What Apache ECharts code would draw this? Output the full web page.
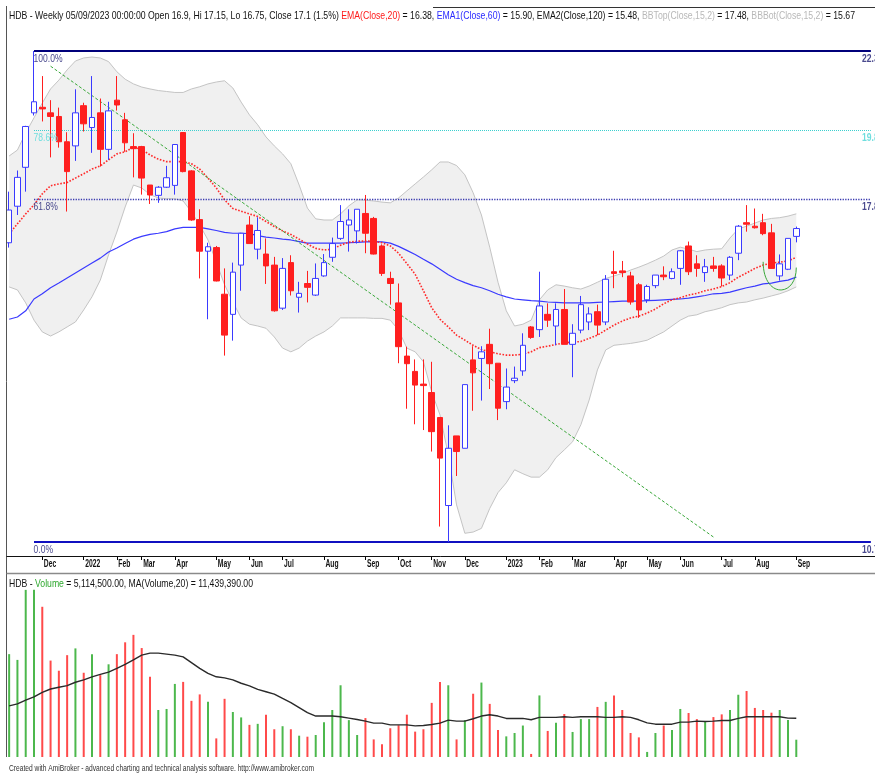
<!DOCTYPE html>
<html><head><meta charset="utf-8">
<script src="https://cdn.jsdelivr.net/npm/echarts@6/dist/echarts.min.js"></script>
<style>html,body{margin:0;padding:0;background:#fff;overflow:hidden}#c{width:875px;height:776px}</style>
</head><body><div id="c"></div>
<script>
// ---------------- DATA (weekly bars, HDB) ----------------
const opens = [16.74,17.68,18.74,20.33,20.50,20.33,20.22,19.47,19.35,20.55,
 19.89,20.33,19.25,20.72,20.12,19.33,19.33,18.25,17.97,18.19,
 18.24,19.74,18.64,17.33,16.53,16.62,15.50,15.04,16.19,17.19,
 16.58,16.46,16.19,15.18,16.25,15.43,15.75,15.48,15.93,16.38,
 16.85,17.19,17.04,17.49,17.36,16.66,15.87,15.30,14.13,13.81,
 13.55,13.38,12.89,11.30,12.54,12.31,14.05,14.08,14.38,13.98,
 13.20,13.62,13.82,14.76,14.70,15.04,14.78,15.15,14.38,14.69,
 14.87,15.10,14.87,16.03,16.05,15.93,15.72,15.37,15.70,15.95,
 15.87,16.11,16.66,16.22,16.01,16.17,16.17,15.95,16.48,17.25,
 17.16,17.25,16.99,15.93,16.09,16.90];
const highs = [18.07,18.65,19.94,22.30,21.48,20.72,20.49,19.75,21.06,20.64,
 21.48,20.77,20.67,21.48,20.33,19.72,19.35,18.25,18.22,18.78,
 19.40,19.75,18.66,17.60,16.74,16.66,16.11,16.25,16.99,17.42,
 17.39,16.85,16.39,16.36,16.43,15.79,16.05,16.23,16.46,16.87,
 17.71,17.60,17.60,17.98,17.40,16.70,16.03,15.75,14.33,14.06,
 14.06,14.01,12.89,12.74,12.54,13.54,14.34,14.34,14.72,13.98,
 13.87,13.91,14.62,14.78,16.03,15.29,15.29,15.62,14.82,15.46,
 15.20,15.26,15.95,16.54,16.29,16.03,15.76,15.72,15.95,16.16,
 16.11,16.56,16.77,16.43,16.34,16.39,16.21,16.41,17.19,17.71,
 17.62,17.48,17.22,16.45,16.85,17.15];
const lows = [16.62,17.45,18.07,20.25,20.07,19.02,19.30,17.54,18.92,19.77,
 19.15,18.76,18.95,20.40,19.18,18.46,17.99,17.74,17.77,18.17,
 17.99,18.60,17.30,15.87,14.93,15.80,14.14,14.46,15.58,16.72,
 16.33,15.74,15.10,15.14,15.47,15.08,15.31,15.46,15.91,16.27,
 16.81,16.52,16.72,16.48,16.45,15.93,15.26,13.98,13.06,12.76,
 12.65,12.25,10.95,10.70,11.81,12.31,13.02,13.22,13.45,12.84,
 13.05,13.57,13.72,14.50,14.54,14.76,14.36,14.38,13.69,14.62,
 14.69,14.58,14.80,15.64,15.90,15.26,14.96,15.30,15.64,15.83,
 15.85,15.72,15.95,15.91,15.79,16.03,15.68,15.83,16.31,17.02,
 17.10,16.93,16.11,15.82,16.07,16.75];
const closes = [17.58,18.46,19.92,20.67,20.45,20.22,19.47,18.62,20.33,20.00,
 20.19,19.25,20.39,20.57,19.44,19.27,18.44,17.98,18.19,18.45,
 19.39,18.62,17.32,16.53,16.64,15.81,14.58,16.02,16.98,16.72,
 17.05,16.17,15.12,16.11,15.58,15.52,15.66,15.87,16.25,16.72,
 17.28,17.32,17.60,16.98,16.46,15.99,15.75,14.33,13.97,13.53,
 13.52,12.62,12.13,12.31,12.25,13.54,13.78,14.22,13.97,13.07,
 13.49,13.67,14.36,14.53,15.23,14.91,15.15,14.38,14.62,15.26,
 15.05,14.80,15.85,15.99,16.01,15.32,15.14,15.68,15.95,15.91,
 16.03,16.54,16.03,16.11,16.15,16.11,15.88,16.38,17.16,17.21,
 17.12,16.97,16.11,16.22,16.85,17.10];
const ema20 = [16.96,17.22,17.48,17.72,18.01,18.23,18.28,18.32,18.44,18.56,
 18.69,18.78,18.95,19.12,19.18,19.31,19.25,19.09,18.97,18.90,
 18.90,18.90,18.84,18.69,18.44,18.17,17.85,17.62,17.55,17.48,
 17.41,17.28,17.15,17.04,16.95,16.83,16.71,16.60,16.56,16.58,
 16.68,16.75,16.78,16.78,16.78,16.74,16.66,16.48,16.23,15.97,
 15.58,15.19,14.93,14.76,14.58,14.47,14.36,14.27,14.22,14.18,
 14.15,14.15,14.17,14.22,14.31,14.34,14.38,14.41,14.43,14.44,
 14.51,14.58,14.69,14.80,14.89,14.96,15.00,15.07,15.16,15.28,
 15.37,15.42,15.48,15.52,15.58,15.62,15.68,15.77,15.90,16.00,
 16.11,16.19,16.24,16.26,16.29,16.38];
const ema60 = [14.93,14.98,15.12,15.39,15.51,15.65,15.76,15.88,16.00,16.12,
 16.24,16.36,16.51,16.61,16.72,16.83,16.90,16.95,16.98,17.02,
 17.09,17.13,17.13,17.13,17.09,17.05,17.00,16.98,16.98,16.97,
 16.92,16.88,16.86,16.83,16.81,16.77,16.73,16.73,16.73,16.73,
 16.73,16.74,16.75,16.76,16.77,16.76,16.73,16.65,16.55,16.45,
 16.33,16.22,16.09,15.96,15.85,15.77,15.70,15.65,15.58,15.50,
 15.44,15.39,15.37,15.35,15.34,15.32,15.31,15.30,15.30,15.30,
 15.30,15.31,15.32,15.33,15.34,15.34,15.34,15.35,15.36,15.37,
 15.38,15.39,15.41,15.44,15.47,15.51,15.52,15.55,15.60,15.65,
 15.69,15.74,15.76,15.80,15.83,15.90];
const bbTop = [19.06,19.23,19.73,20.18,20.63,21.07,21.35,21.68,21.97,22.07,
 22.10,22.07,21.95,21.62,21.38,21.23,21.13,21.07,21.02,20.99,
 20.96,20.96,21.07,21.14,21.23,21.29,21.33,21.10,20.66,20.27,
 19.97,19.61,19.35,19.12,18.84,18.25,17.63,17.35,17.32,17.32,
 17.48,17.69,17.85,17.84,17.82,17.79,17.77,17.90,18.09,18.28,
 18.47,18.67,18.89,18.89,18.79,18.53,18.04,17.45,16.63,15.78,
 15.12,14.78,14.82,14.91,15.37,15.60,15.72,15.69,15.65,15.62,
 15.69,15.78,15.87,15.93,15.99,16.07,16.14,16.22,16.31,16.41,
 16.56,16.63,16.58,16.52,16.56,16.58,16.59,16.86,17.09,17.16,
 17.24,17.32,17.36,17.38,17.42,17.48];
const bbBot = [15.67,15.60,15.30,14.91,14.65,14.56,14.65,14.76,14.87,15.14,
 15.44,15.83,16.44,17.01,17.66,18.25,18.17,17.99,17.90,17.88,
 17.88,17.82,17.53,17.19,16.81,16.26,15.72,15.32,14.96,14.82,
 14.78,14.73,14.54,14.30,14.22,14.30,14.45,14.56,14.65,14.78,
 14.96,14.96,14.96,14.96,14.95,14.95,14.91,14.69,14.30,14.22,
 14.01,13.39,12.94,12.19,11.31,10.84,10.86,10.92,11.25,11.52,
 11.69,11.92,11.85,11.79,11.79,11.92,12.14,12.28,12.43,12.75,
 13.23,13.84,14.26,14.36,14.38,14.40,14.43,14.47,14.56,14.65,
 14.78,14.91,15.00,15.03,15.10,15.14,15.19,15.26,15.30,15.32,
 15.37,15.41,15.46,15.51,15.58,15.67];
// volume in millions of shares
const volumeM = [30.4,28.7,49.4,49.4,44.4,28.5,25.5,30.1,32.1,24.9,
 30.4,24.2,27.4,30.4,33.9,36.1,32.2,23.7,13.9,14.2,
 21.6,22.2,16.6,18.5,16.3,5.5,17.2,13.3,11.7,9.5,
 9.8,12.5,8.2,9.1,8.2,6.3,6.0,6.5,10.3,13.9,
 21.2,10.9,6.5,11.5,5.2,3.8,8.5,9.4,12.5,7.5,
 8.2,16.0,22.2,21.2,5.2,10.9,18.7,22.0,15.7,8.0,
 6.1,7.1,9.3,0.9,18.2,7.7,10.1,12.7,7.4,11.2,
 11.2,14.8,16.3,18.2,13.9,7.1,5.8,1.5,7.1,9.3,
 8.0,14.2,13.0,11.2,10.6,11.8,12.6,13.9,18.4,19.5,
 14.5,13.9,13.1,13.9,10.9,5.1145];
const volMA20M = [15.1,15.7,16.8,17.8,19.1,20.1,20.6,21.1,22.1,22.8,
 23.7,24.4,25.1,26.2,27.4,28.7,30.1,30.7,30.7,30.4,
 30.1,29.6,27.9,26.2,24.7,23.7,23.4,22.8,21.8,21.0,
 20.0,19.3,18.6,17.3,16.1,14.6,13.1,12.1,12.1,12.1,
 11.9,11.5,11.1,10.6,10.0,10.0,9.5,9.5,9.5,9.2,
 9.3,9.6,10.0,10.9,10.6,10.6,11.3,12.1,12.5,12.1,
 11.4,11.4,11.4,11.0,11.7,11.7,11.7,11.9,11.7,11.9,
 11.9,11.9,11.7,11.7,11.9,11.7,11.0,10.1,9.7,9.7,
 9.7,10.3,10.3,10.6,10.5,10.6,10.8,10.8,11.4,11.9,
 11.9,11.9,11.9,11.9,11.5,11.43939];
// month tick labels: [bar index, label]
const monthTicks = [[4,'Dec'],[9,'2022'],[13,'Feb'],[16,'Mar'],[20,'Apr'],[25,'May'],[29,'Jun'],[33,'Jul'],
 [38,'Aug'],[43,'Sep'],[47,'Oct'],[51,'Nov'],[55,'Dec'],[60,'2023'],[64,'Feb'],[68,'Mar'],[73,'Apr'],
 [77,'May'],[81,'Jun'],[86,'Jul'],[90,'Aug'],[95,'Sep']];
// Fibonacci retracement levels
const fibPct = ['100.0%','78.6%','61.8%','0.0%'];
const fibValue = [22.3, 19.82, 17.87, 10.7];
const fibRightLabel = ['22.3','19.8','17.8','10.7'];
const fibStartBar = 3;
// trend line endpoints [bar, price]
const trendLine = [[5, 21.8],[85, 10.78]];
const ema120Last = 15.48;

// ---------------- CHART ----------------
const N_CAT = 105;
const cats = Array.from({length:N_CAT},(_,i)=>String(i));
const tickSet = new Set(monthTicks.map(t=>t[0]));
const UP_BORDER = '#3a3aff', DOWN = '#ff1f1f';
const VOL_UP = '#4cb84c', VOL_DN = '#ff4a4a';

const candleData = opens.map((o,i)=>[o, closes[i], lows[i], highs[i]]);
const bbDiff = bbTop.map((v,i)=>+(v - bbBot[i]).toFixed(3));
const volData = volumeM.map((v,i)=>({value:v, itemStyle:{color: closes[i]>=opens[i]?VOL_UP:VOL_DN}}));

const fibStyles = [
  {color:'#00007a', width:2, type:'solid'},
  {color:'#3ccfcf', width:1, type:'dotted'},
  {color:'#3a3ab0', width:1.3, type:'dotted'},
  {color:'#1010c0', width:2, type:'solid'}
];
const fibLines = fibValue.map((v,k)=>[
  {coord:[fibStartBar, v], lineStyle:fibStyles[k]},
  {coord:[N_CAT-1, v]}
]);

const option = {
  animation:false,
  backgroundColor:'#ffffff',
  grid:[
    {left:5, top:25, width:875, height:531},
    {left:5, top:583, width:875, height:174}
  ],
  xAxis:[
    {type:'category', gridIndex:0, data:cats, boundaryGap:true,
     axisLine:{show:false}, axisLabel:{show:false}, splitLine:{show:false},
     axisTick:{show:true, alignWithLabel:true, length:4, interval:(i)=>tickSet.has(i), lineStyle:{color:'#000'}}},
    {type:'category', gridIndex:1, data:cats, boundaryGap:true,
     axisLine:{show:false}, axisLabel:{show:false}, axisTick:{show:false}, splitLine:{show:false}}
  ],
  yAxis:[
    {type:'log', logBase:10, gridIndex:0, min:10.478, max:23.185,
     axisLine:{show:false}, axisLabel:{show:false}, axisTick:{show:false}, splitLine:{show:false}},
    {type:'value', gridIndex:1, min:0, max:51.43,
     axisLine:{show:false}, axisLabel:{show:false}, axisTick:{show:false}, splitLine:{show:false}}
  ],
  series:[
    {name:'BBBot', type:'line', xAxisIndex:0, yAxisIndex:0, data:bbBot, stack:'bb', symbol:'none', z:1,
     lineStyle:{color:'#c4c4c4', width:1}, silent:true},
    {name:'BBTop', type:'line', xAxisIndex:0, yAxisIndex:0, data:bbDiff, stack:'bb', symbol:'none', z:1,
     lineStyle:{color:'#c4c4c4', width:1}, areaStyle:{color:'#f0f0f0', opacity:1}, silent:true},
    {name:'EMA1', type:'line', xAxisIndex:0, yAxisIndex:0, data:ema60, symbol:'none', z:3,
     lineStyle:{color:'#3a3aff', width:1.2}, silent:true,
     markLine:{silent:true, symbol:['none','none'], label:{show:false}, data:fibLines, animation:false}},
    {name:'EMA', type:'line', xAxisIndex:0, yAxisIndex:0, data:ema20, symbol:'none', z:4,
     lineStyle:{color:'#ff2a2a', width:1.6, type:'dotted'}, silent:true,
     markLine:{silent:true, symbol:['none','none'], label:{show:false}, animation:false,
       data:[[{coord:trendLine[0], lineStyle:{color:'#3aa83a', width:1, type:[3,2]}},{coord:trendLine[1]}]]}},
    {name:'HDB', type:'candlestick', xAxisIndex:0, yAxisIndex:0, data:candleData, barWidth:6, z:5,
     itemStyle:{color:'#ffffff', color0:DOWN, borderColor:UP_BORDER, borderColor0:DOWN, borderWidth:1}, silent:true},
    {name:'Volume', type:'bar', xAxisIndex:1, yAxisIndex:1, data:volData, barWidth:2, silent:true},
    {name:'MA(Volume,20)', type:'line', xAxisIndex:1, yAxisIndex:1, data:volMA20M, symbol:'none', z:4,
     lineStyle:{color:'#2a2a2a', width:1.4}, silent:true}
  ]
};

const chart = echarts.init(document.getElementById('c'), null, {renderer:'canvas', width:875, height:776});
chart.setOption(option);

// ---------------- TEXT & DECORATIONS ----------------
const FAM = '"Liberation Sans", Arial, sans-serif';
const mctx = document.createElement('canvas').getContext('2d');
function measure(t, size, weight){ mctx.font = (weight||'normal')+' '+size+'px '+FAM; return mctx.measureText(t).width; }
function txt(x, y, text, size, fill, sx, weight){
  return {type:'text', x:x, y:y, scaleX:sx, z:50, silent:true,
    style:{text:text, fill:fill, fontSize:size, fontFamily:FAM, fontWeight:weight||'normal', align:'left', verticalAlign:'middle'}};
}
function richTxt(x, y, parts, colors, size, targetW){
  const plain = parts.map(p=>p[1]).join('');
  const sx = targetW / measure(plain, size);
  const rich = {};
  Object.keys(colors).forEach(k=>{ rich[k] = {fill:colors[k], fontSize:size, fontFamily:FAM}; });
  return {type:'text', x:x, y:y, scaleX:sx, z:50, silent:true,
    style:{text: parts.map(p=>'{'+p[0]+'|'+p[1]+'}').join(''), fontSize:size, fontFamily:FAM, rich:rich, align:'left', verticalAlign:'middle'}};
}
function fmtNum(v){ return v.toLocaleString('en-US',{minimumFractionDigits:2, maximumFractionDigits:2}); }
const last = opens.length-1;
const chg = ((closes[last]/closes[last-1]-1)*100).toFixed(1);
const headerParts = [
  ['k','HDB - Weekly 05/09/2023 00:00:00 Open '+opens[last]+', Hi '+highs[last]+', Lo '+lows[last]+', Close '+closes[last]+' ('+chg+'%) '],
  ['r','EMA(Close,20)'], ['k',' = '+ema20[last].toFixed(2)+', '],
  ['b','EMA1(Close,60)'], ['k',' = '+ema60[last].toFixed(2)+', EMA2(Close,120) = '+ema120Last.toFixed(2)+', '],
  ['g','BBTop(Close,15,2)'], ['k',' = '+bbTop[last].toFixed(2)+', '],
  ['g','BBBot(Close,15,2)'], ['k',' = '+bbBot[last].toFixed(2)]
];
const volParts = [
  ['k','HDB - '], ['v','Volume'],
  ['k',' = '+fmtNum(Math.round(volumeM[last]*1e6))+', MA(Volume,20) = '+fmtNum(Math.round(volMA20M[last]*1e6))]
];

const g = [];
// frame lines
g.push({type:'line', z:40, silent:true, shape:{x1:6.5,y1:6,x2:6.5,y2:757}, style:{stroke:'#555', lineWidth:1}});
g.push({type:'line', z:40, silent:true, shape:{x1:433,y1:7.5,x2:875,y2:7.5}, style:{stroke:'#333', lineWidth:1}});
g.push({type:'line', z:40, silent:true, shape:{x1:6.5,y1:556.5,x2:875,y2:556.5}, style:{stroke:'#111', lineWidth:1}});
g.push({type:'line', z:40, silent:true, shape:{x1:6.5,y1:573.5,x2:875,y2:573.5}, style:{stroke:'#8a8a8a', lineWidth:1.5}});

// headers
g.push(richTxt(9, 15.5, headerParts, {k:'#111', r:'#ff1a1a', b:'#2a2aff', g:'#b8b8b8'}, 11.6, 846));
g.push(richTxt(9, 583.7, volParts, {k:'#111', v:'#2ea82e'}, 11.6, 244));
const foot = 'Created with AmiBroker - advanced charting and technical analysis software. http://www.amibroker.com';
g.push(txt(9, 769, foot, 8.6, '#333', 305/measure(foot, 8.6)));

// month labels
const xsx = 15/measure('2022', 10, 'bold');
monthTicks.forEach(t=>{
  const p = chart.convertToPixel({gridIndex:0}, [t[0], 15]);
  g.push(txt(p[0]+1.5, 564.5, t[1], 10, '#111', xsx, 'bold'));
});

// fib labels
const psx = 29/measure('100.0%', 10.5);
const fibTextColor = ['#4a4a8e','#6fdede','#4a4a8e','#4a4a8e'];
fibValue.forEach((v,k)=>{
  const p = chart.convertToPixel({gridIndex:0}, [fibStartBar, v]);
  g.push(txt(p[0]-0.5, p[1]+8.5, fibPct[k], 10.5, fibTextColor[k], psx));
  g.push(txt(862, p[1]+8, fibRightLabel[k], 10.5, fibTextColor[k], psx, 'bold'));
});

// green arc annotation near the last bars
const a1 = chart.convertToPixel({gridIndex:0}, [91, 16.27]);
const a2 = chart.convertToPixel({gridIndex:0}, [94.8, 16.13]);
const ab = chart.convertToPixel({gridIndex:0}, [93, 15.60]);
const cy = (a1[1]+a2[1])/2;
const cpY = cy + (ab[1]-cy)*4/3;
g.push({type:'bezierCurve', z:45, silent:true,
  shape:{x1:a1[0], y1:a1[1], x2:a2[0], y2:a2[1], cpx1:a1[0], cpy1:cpY, cpx2:a2[0], cpy2:cpY},
  style:{stroke:'#3aa83a', lineWidth:1, fill:null}});

chart.setOption({graphic:g});
</script>
</body></html>
